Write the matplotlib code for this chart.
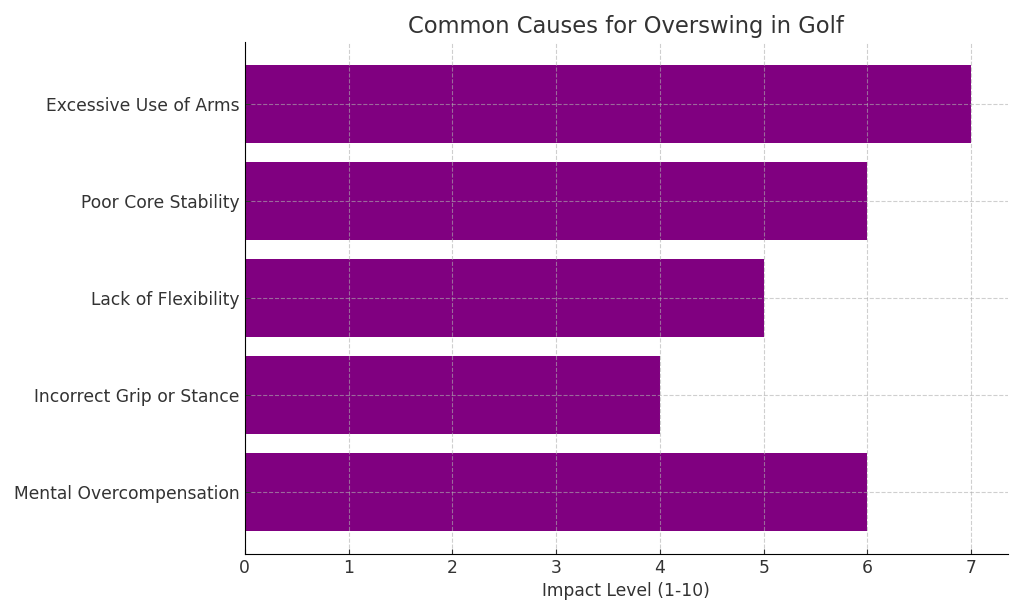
import matplotlib.pyplot as plt

causes = ['Excessive Use of Arms', 'Poor Core Stability', 'Lack of Flexibility',
          'Incorrect Grip or Stance', 'Mental Overcompensation']
impact = [7, 6, 5, 4, 6]

fig = plt.figure(figsize=(10.24, 6.14), dpi=100)
ax = fig.add_axes([0.239, 0.098, 0.745, 0.834])
ax.barh(causes, impact, color='purple')
ax.invert_yaxis()
ax.set_title('Common Causes for Overswing in Golf', fontsize=16.3, color='#333333')
ax.set_xlabel('Impact Level (1-10)', fontsize=12.3, color='#333333')
ax.tick_params(labelsize=12.3, colors='#333333', direction='in')
ax.spines['top'].set_visible(False)
ax.spines['right'].set_visible(False)
ax.grid(True, linestyle='--', color='#b0b0b0', linewidth=0.8, alpha=0.6)
fig.savefig('out.png', dpi=100)
